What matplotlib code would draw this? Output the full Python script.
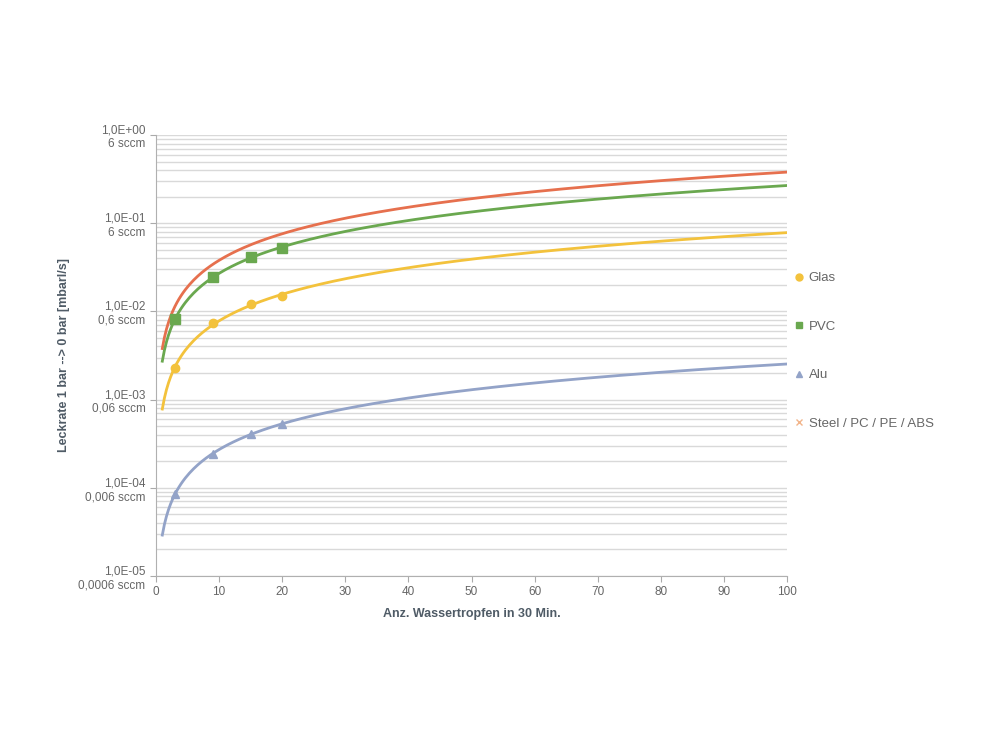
import matplotlib
matplotlib.use("Agg")
import matplotlib.pyplot as plt
from matplotlib.ticker import FixedLocator, LogLocator, NullFormatter
import numpy as np

plt.rcParams["font.family"] = ["Liberation Sans", "DejaVu Sans"]

# Messpunkte (Anz. Wassertropfen in 30 Min. -> Leckrate mbar*l/s)
drops = [3, 9, 15, 20]
glas = [0.0023, 0.0073, 0.012, 0.015]
pvc = [0.0081, 0.0245, 0.041, 0.053]
alu = [0.000085, 0.00024, 0.00041, 0.00053]
steel = [0.0114, 0.034, 0.057, 0.076]

names = ["Glas", "PVC", "Alu", "Steel / PC / PE / ABS"]
y_ticks = [1e-5, 1e-4, 1e-3, 1e-2, 1e-1, 1e0]
y_labels = ["1,0E-05\n0,0006 sccm", "1,0E-04\n0,006 sccm", "1,0E-03\n0,06 sccm",
            "1,0E-02\n0,6 sccm", "1,0E-01\n6 sccm", "1,0E+00\n6 sccm"]
x_ticks = list(range(0, 101, 10))

col_glas = "#f3c23c"
col_pvc = "#6aa84f"
col_alu = "#93a3c8"
col_steel = "#f2b48a"
col_steel_trend = "#e6704e"
text_col = "#666666"
label_col = "#4f5b66"


# Potenz-Trendlinie wie in Excel
def power_trend(xs, ys, x_new):
    b, a = np.polyfit(np.log10(xs), np.log10(ys), 1)
    return 10 ** a * x_new ** b


fig = plt.figure(figsize=(10, 7.5), dpi=100)
ax = fig.add_axes([0.156, 0.232, 0.631, 0.588])

ax.set_yscale("log")
ax.set_xlim(0, 100)
ax.set_ylim(1e-5, 1e0)

xt = np.linspace(1, 100, 300)
ax.plot(xt, power_trend(drops, steel, xt), color=col_steel_trend, lw=2, zorder=3)
ax.plot(xt, power_trend(drops, pvc, xt), color=col_pvc, lw=2, zorder=3)
ax.plot(xt, power_trend(drops, glas, xt), color=col_glas, lw=2, zorder=3)
ax.plot(xt, power_trend(drops, alu, xt), color=col_alu, lw=2, zorder=3)

ax.plot(drops, glas, "o", color=col_glas, ms=6, ls="none", label=names[0], zorder=4)
ax.plot(drops, pvc, "s", color=col_pvc, ms=7, ls="none", label=names[1], zorder=4)
ax.plot(drops, alu, "^", color=col_alu, ms=6, ls="none", label=names[2], zorder=4)
ax.plot(drops, steel, "x", color=col_steel, ms=4, mew=1, ls="none", alpha=0.0, label=names[3], zorder=4)

# Gitter
ax.yaxis.set_major_locator(FixedLocator(y_ticks))
ax.set_yticklabels(y_labels)
ax.yaxis.set_minor_locator(LogLocator(base=10, subs=np.arange(2, 10)))
ax.yaxis.set_minor_formatter(NullFormatter())
ax.grid(True, which="both", axis="y", color="#d9d9d9", lw=1)
ax.set_axisbelow(True)

ax.set_xticks(x_ticks)
ax.tick_params(axis="both", which="major", labelsize=8.5, colors=text_col, length=4, color="#aaaaaa")
ax.tick_params(axis="y", which="minor", length=0)
for lbl in ax.get_yticklabels():
    lbl.set_horizontalalignment("right")
    lbl.set_multialignment("right")

for side in ["top", "right"]:
    ax.spines[side].set_visible(False)
for side in ["left", "bottom"]:
    ax.spines[side].set_color("#b0b0b0")

ax.set_xlabel("Anz. Wassertropfen in 30 Min.", fontsize=9, fontweight="bold", color=label_col, labelpad=7)
ax.set_ylabel("Leckrate 1 bar --> 0 bar [mbarl/s]", fontsize=9, fontweight="bold", color=label_col, labelpad=6)

leg = ax.legend(loc="center left", bbox_to_anchor=(1.005, 0.51), frameon=False, fontsize=9.5,
                labelspacing=2.75, handlelength=0.6, handletextpad=0.4, borderaxespad=0)
for txt in leg.get_texts():
    txt.set_color(text_col)
for h in leg.legend_handles:
    h.set_markersize(5)
leg.legend_handles[3].set_alpha(1.0)

fig.savefig("out.png", dpi=100)
